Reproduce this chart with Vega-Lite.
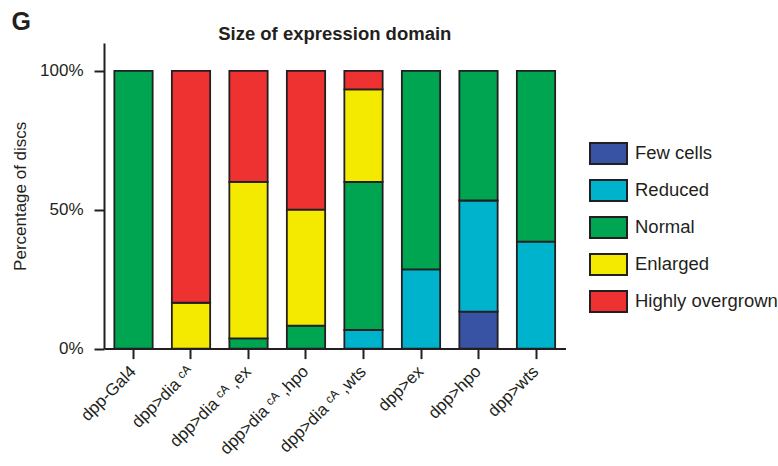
{
  "$schema": "https://vega.github.io/schema/vega-lite/v6.json",
  "padding": {"left": 11, "top": 10, "right": 5, "bottom": 5},
  "background": "white",
  "config": {
    "view": {"stroke": null},
    "font": "Liberation Sans",
    "axis": {
      "domainColor": "#231f20", "domainWidth": 2,
      "tickColor": "#231f20", "tickWidth": 2, "tickSize": 10,
      "labelFont": "Liberation Sans", "labelFontSize": 17, "labelColor": "#231f20",
      "titleFont": "Liberation Sans", "titleFontSize": 17, "titleFontWeight": "normal", "titleColor": "#231f20",
      "grid": false
    }
  },
  "title": {"text": "G", "anchor": "start", "frame": "bounds", "fontSize": 25, "fontWeight": "bold", "color": "#231f20", "font": "Liberation Sans", "offset": -10},
  "hconcat": [
    {
      "width": 461.5,
      "height": 305.6,
      "title": {"text": "Size of expression domain", "fontSize": 18.5, "fontWeight": "bold", "color": "#231f20", "font": "Liberation Sans", "offset": -1, "anchor": "middle"},
      "data": {
        "values": [
          {"genotype": "dpp-Gal4", "cat": "Normal", "pct": 100},
          {"genotype": "dpp>dia ᶜᴬ", "cat": "Enlarged", "pct": 16.5},
          {"genotype": "dpp>dia ᶜᴬ", "cat": "Highly overgrown", "pct": 83.5},
          {"genotype": "dpp>dia ᶜᴬ ,ex", "cat": "Normal", "pct": 3.7},
          {"genotype": "dpp>dia ᶜᴬ ,ex", "cat": "Enlarged", "pct": 56.3},
          {"genotype": "dpp>dia ᶜᴬ ,ex", "cat": "Highly overgrown", "pct": 40},
          {"genotype": "dpp>dia ᶜᴬ ,hpo", "cat": "Normal", "pct": 8.3},
          {"genotype": "dpp>dia ᶜᴬ ,hpo", "cat": "Enlarged", "pct": 41.7},
          {"genotype": "dpp>dia ᶜᴬ ,hpo", "cat": "Highly overgrown", "pct": 50},
          {"genotype": "dpp>dia ᶜᴬ ,wts", "cat": "Reduced", "pct": 6.7},
          {"genotype": "dpp>dia ᶜᴬ ,wts", "cat": "Normal", "pct": 53.3},
          {"genotype": "dpp>dia ᶜᴬ ,wts", "cat": "Enlarged", "pct": 33.3},
          {"genotype": "dpp>dia ᶜᴬ ,wts", "cat": "Highly overgrown", "pct": 6.7},
          {"genotype": "dpp>ex", "cat": "Reduced", "pct": 28.5},
          {"genotype": "dpp>ex", "cat": "Normal", "pct": 71.5},
          {"genotype": "dpp>hpo", "cat": "Few cells", "pct": 13.3},
          {"genotype": "dpp>hpo", "cat": "Reduced", "pct": 40},
          {"genotype": "dpp>hpo", "cat": "Normal", "pct": 46.7},
          {"genotype": "dpp>wts", "cat": "Reduced", "pct": 38.5},
          {"genotype": "dpp>wts", "cat": "Normal", "pct": 61.5}
        ]
      },
      "transform": [
        {"calculate": "indexof(['Few cells','Reduced','Normal','Enlarged','Highly overgrown'], datum.cat)", "as": "k"}
      ],
      "mark": {"type": "bar", "stroke": "#231f20", "strokeWidth": 1.8},
      "encoding": {
        "x": {
          "field": "genotype", "type": "nominal", "sort": null,
          "scale": {"paddingInner": 0.334, "paddingOuter": 0.18},
          "axis": {"title": null, "labelAngle": -45, "labelPadding": 10, "labelAlign": "right", "labelBaseline": "middle"}
        },
        "y": {
          "field": "pct", "type": "quantitative", "stack": "zero",
          "scale": {"domain": [0, 110], "nice": false},
          "axis": {"title": "Percentage of discs", "values": [0, 50, 100], "labelExpr": "datum.value + '%'", "labelPadding": 11, "titlePadding": 10}
        },
        "color": {
          "field": "cat", "type": "nominal",
          "scale": {
            "domain": ["Few cells", "Reduced", "Normal", "Enlarged", "Highly overgrown"],
            "range": ["#3953a4", "#00b3cc", "#00a551", "#f4ea00", "#ee3131"]
          },
          "legend": {
            "title": null, "orient": "none", "legendX": 485, "legendY": 91,
            "symbolType": "M-1,-0.57H1V0.57H-1Z", "symbolSize": 1369,
            "symbolStrokeColor": "#231f20", "symbolStrokeWidth": 2, "symbolOpacity": 1,
            "labelFont": "Liberation Sans", "labelFontSize": 18.5, "labelColor": "#231f20",
            "labelOffset": 7, "rowPadding": 2
          }
        },
        "order": {"field": "k", "type": "quantitative"}
      }
    }
  ]
}
